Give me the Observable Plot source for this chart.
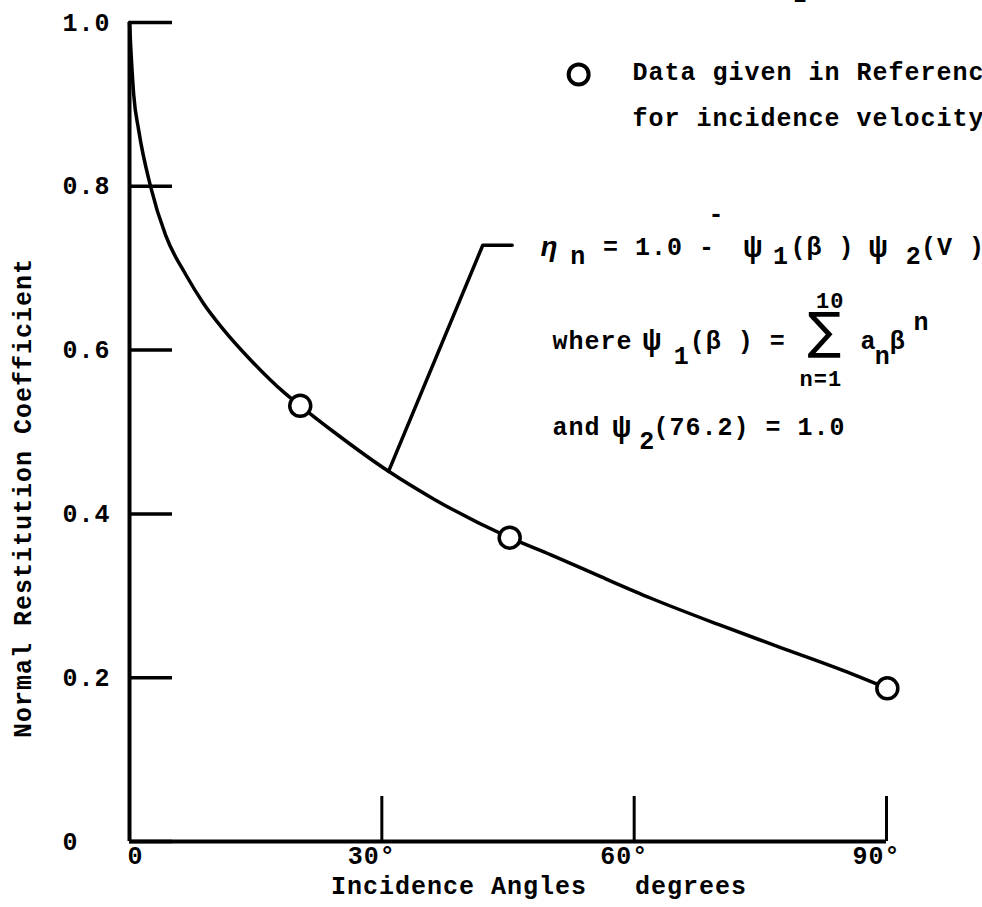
<!DOCTYPE html>
<html>
<head>
<meta charset="utf-8">
<script src="https://cdn.jsdelivr.net/npm/d3@7"></script>
<script src="https://cdn.jsdelivr.net/npm/@observablehq/plot@0.6"></script>
<style>
  html, body { margin: 0; padding: 0; background: #fff; overflow: hidden; }
  #chart svg { display: block; }
</style>
</head>
<body>
<div id="chart"></div>
<script>
// ---- data ----
const curveAngle = [0, 0.2, 0.5, 1.1, 2.5, 4.3, 6.7, 8.8, 11.1, 14.4, 18.4, 20.3, 24.3, 30.8, 36.2, 45.2, 50.1, 56.1, 62.0, 70.0, 77.1, 85.8, 90.1];
const curveCoef  = [1.0, 0.96, 0.912, 0.868, 0.80, 0.740, 0.692, 0.657, 0.626, 0.588, 0.548, 0.532, 0.500, 0.452, 0.418, 0.371, 0.350, 0.323, 0.297, 0.265, 0.238, 0.205, 0.187];

const pointAngle = [20.3, 45.2, 90.1];
const pointCoef  = [0.532, 0.371, 0.187];

const yTicks = [0, 0.2, 0.4, 0.6, 0.8, 1.0];
const yTickLabels = ["0", "0.2", "0.4", "0.6", "0.8", "1.0"];
const xTicks = [0, 30, 60, 90];
const xTickLabels = ["0", "30°", "60°", "90°"];

const xTitle = "Incidence Angles   degrees";
const yTitle = "Normal Restitution Coefficient";

const legendLines = ["Data given in Reference", "for incidence velocity"];
const legendLineAngle = [59.8, 59.8];
const legendLineCoef = [0.939, 0.884];
const legendMarkAngle = [53.4];
const legendMarkCoef = [0.9365];

// leader line from the curve to the formula
const leaderAngle = [30.8, 42.0, 45.5];
const leaderCoef  = [0.452, 0.728, 0.728];

// formula pieces (anchored at their left edge)
const formulaText  = ["n", "= 1.0 -", "-", "ψ", "1", "(β )", "ψ", "2", "(V )",
                      "where", "ψ", "1", "(β ) =", "a", "n", "β", "n",
                      "and", "ψ", "2", "(76.2) = 1.0"];
const formulaAngle = [52.4, 56.3, 68.84, 73.0, 76.5, 78.6, 87.9, 92.3, 94.1,
                      50.29, 61.0, 64.7, 66.6, 86.9, 88.6, 90.4, 93.2,
                      50.29, 57.4, 60.6, 62.3];
const formulaCoef  = [0.7143, 0.7253, 0.7656, 0.7253, 0.7143, 0.7253, 0.7253, 0.7143, 0.7253,
                      0.6117, 0.6117, 0.5934, 0.6117, 0.6117, 0.5934, 0.6117, 0.6337,
                      0.5055, 0.5055, 0.4896, 0.5055];
const etaText = ["η"], etaAngle = [48.87], etaCoef = [0.7253];
const sigmaText = ["∑"], sigmaAngle = [82.63], sigmaCoef = [0.6227];
const limitText = ["10", "n=1"], limitAngle = [83.3, 82.2], limitCoef = [0.6606, 0.5653];
const topFragment = ["2"], topFragmentAngle = [79.8], topFragmentCoef = [1.034];

// ---- tables ----
const curve = curveAngle.map((a, i) => ({a, c: curveCoef[i]}));
const points = pointAngle.map((a, i) => ({a, c: pointCoef[i]}));
const leader = leaderAngle.map((a, i) => ({a, c: leaderCoef[i]}));
const legend = legendLines.map((t, i) => ({t, a: legendLineAngle[i], c: legendLineCoef[i]}));
const legendMark = legendMarkAngle.map((a, i) => ({a, c: legendMarkCoef[i]}));
const formula = formulaText.map((t, i) => ({t, a: formulaAngle[i], c: formulaCoef[i]}));
const eta = etaText.map((t, i) => ({t, a: etaAngle[i], c: etaCoef[i]}));
const sigma = sigmaText.map((t, i) => ({t, a: sigmaAngle[i], c: sigmaCoef[i]}));
const limits = limitText.map((t, i) => ({t, a: limitAngle[i], c: limitCoef[i]}));
const frag = topFragment.map((t, i) => ({t, a: topFragmentAngle[i], c: topFragmentCoef[i]}));
const xLabels = xTicks.map((v, i) => ({v, t: xTickLabels[i]}));

const ink = "#000";

const chart = Plot.plot({
  width: 982,
  height: 907,
  marginLeft: 129,
  marginRight: 96,
  marginTop: 22,
  marginBottom: 66,
  x: {domain: [0, 90]},
  y: {domain: [0, 1]},
  style: {
    fontFamily: "'Liberation Mono', 'DejaVu Sans Mono', monospace",
    fontSize: "25px",
    fontWeight: "bold",
    letterSpacing: "1px",
    color: ink,
    background: "#fff"
  },
  marks: [
    // axes lines
    Plot.ruleX([0], {y1: 0, y2: 1, stroke: ink, strokeWidth: 4}),
    Plot.ruleY([0], {x1: 0, x2: 90, stroke: ink, strokeWidth: 4}),
    Plot.axisY({
      ticks: yTicks,
      tickFormat: d => yTickLabels[yTicks.indexOf(d)],
      tickSize: -43,
      tickPadding: 110,
      textAnchor: "start",
      strokeWidth: 3.5,
      label: null
    }),
    Plot.axisX({
      ticks: xTicks,
      tickFormat: () => "",
      tickSize: -45,
      strokeWidth: 3,
      label: null
    }),
    Plot.text(xLabels, {x: "v", text: "t", frameAnchor: "bottom", textAnchor: "end", dx: 14, dy: 14, lineAnchor: "middle"}),
    // axis titles
    Plot.text([xTitle], {frameAnchor: "bottom", text: d => d, dx: 31, dy: 44, lineAnchor: "middle"}),
    Plot.text([yTitle], {frameAnchor: "left", text: d => d, rotate: -90, textAnchor: "middle", dx: -107, dy: 66, lineAnchor: "middle"}),
    // curve
    Plot.line(curve, {x: "a", y: "c", curve: "monotone-x", stroke: ink, strokeWidth: 3.5}),
    // leader
    Plot.line(leader, {x: "a", y: "c", stroke: ink, strokeWidth: 3.5}),
    // data points
    Plot.dot(points, {x: "a", y: "c", r: 10.5, fill: "#fff", stroke: ink, strokeWidth: 3.5}),
    // legend
    Plot.dot(legendMark, {x: "a", y: "c", r: 10, fill: "#fff", stroke: ink, strokeWidth: 4}),
    Plot.text(legend, {x: "a", y: "c", text: "t", textAnchor: "start", lineAnchor: "middle"}),
    // formula
    Plot.text(eta, {x: "a", y: "c", text: "t", textAnchor: "start", lineAnchor: "middle", fontStyle: "italic", fontSize: 28}),
    Plot.text(formula, {filter: d => d.t !== "ψ", x: "a", y: "c", text: "t", textAnchor: "start", lineAnchor: "middle"}),
    Plot.text(formula, {filter: d => d.t === "ψ", x: "a", y: "c", text: "t", textAnchor: "start", lineAnchor: "middle", fontSize: 31}),
    Plot.text(sigma, {x: "a", y: "c", text: "t", lineAnchor: "middle", fontFamily: "DejaVu Sans", fontWeight: "normal", fontSize: 50}),
    Plot.text(limits, {x: "a", y: "c", text: "t", lineAnchor: "middle", fontSize: 22}),
    Plot.text(frag, {x: "a", y: "c", text: "t", lineAnchor: "middle", fontSize: 22})
  ]
});

document.getElementById("chart").appendChild(chart);
</script>
</body>
</html>
